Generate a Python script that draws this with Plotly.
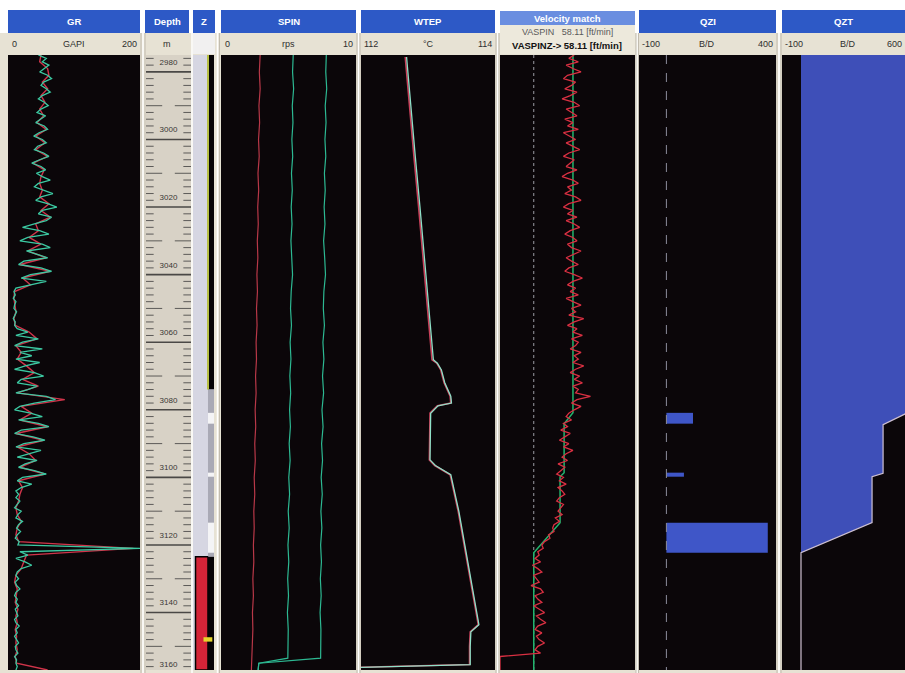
import numpy as np
import plotly.graph_objects as go

# ---------------- data ----------------
DEPTH_RANGE = [2975.0, 3157.0]

GR_DEPTH = np.arange(2975, 3158, 1.0)
GR_PASS1 = [46, 58, 52, 62, 55, 48, 60, 66, 54, 50,
            58, 64, 52, 46, 55, 61, 50, 44, 57, 49,
            42, 55, 60, 47, 39, 52, 58, 45, 40, 54,
            62, 48, 36, 50, 57, 43, 52, 64, 46, 40,
            55, 68, 50, 42, 60, 74, 52, 46, 66, 58,
            40, 22, 48, 62, 30, 18, 52, 64, 28, 44,
            60, 24, 16, 50, 66, 34, 20, 58, 36, 12,
            9, 11, 8, 12, 10, 9, 13, 10, 8, 11,
            10, 14, 30, 12, 46, 22, 10, 52, 18, 36,
            12, 48, 26, 10, 40, 54, 20, 14, 44, 30,
            12, 58, 72, 40, 18, 10, 34, 52, 16, 46,
            62, 20, 10, 38, 56, 24, 12, 50, 30, 14,
            44, 26, 16, 40, 58, 22, 14, 36, 20, 12,
            16, 12, 18, 14, 10, 20, 15, 12, 22, 16,
            13, 19, 14, 11, 17, 15, 200, 18, 30, 12,
            26, 36, 20, 14, 12, 16, 11, 13, 18, 12,
            10, 14, 12, 16, 11, 13, 15, 10, 12, 17,
            12, 14, 10, 13, 16, 11, 12, 15, 10, 13,
            12, 14, 12]
GR_PASS2_DEPTH = np.arange(2975, 3158, 2.0)
GR_PASS2 = [50, 48, 60, 62, 52, 60, 50, 56, 48, 54,
            44, 58, 42, 56, 42, 60, 38, 55, 50, 48,
            52, 48, 62, 50, 64, 42, 46, 32, 50, 30,
            58, 18, 64, 22, 34, 10, 9, 11, 12, 9,
            11, 32, 44, 12, 20, 14, 28, 40, 22, 46,
            14, 86, 20, 36, 18, 60, 12, 54, 14, 32,
            42, 18, 56, 16, 22, 18, 16, 12, 14, 20,
            14, 12, 16, 190, 28, 24, 20, 12, 10, 14,
            12, 11, 15, 12, 14, 11, 13, 12, 14, 11,
            13, 60]

DEPTH_MARKS = np.arange(2976, 3160, 2)
DEPTH_LABELS = [2980, 3000, 3020, 3040, 3060, 3080, 3100, 3120, 3140, 3160]

Z_ZONE_TOP = [2975.0, 3123.5, 2975.0, 3074.0, 3080.9, 3098.6, 3113.4, 3123.5, 2975.0, 3147.3]
Z_ZONE_BOTTOM = [3157.0, 3157.0, 3074.0, 3123.5, 3084.1, 3099.8, 3122.3, 3157.0, 3074.0, 3148.6]
Z_ZONE_KIND = ['casing', 'sump', 'blank', 'screen', 'flow', 'flow', 'flow', 'blank', 'edge', 'marker']

SPIN_DEPTH = [2975, 2980, 2985, 2990, 2995, 3000, 3005, 3010, 3015, 3020,
              3025, 3030, 3035, 3040, 3045, 3050, 3055, 3060, 3065, 3070,
              3075, 3080, 3085, 3090, 3095, 3100, 3105, 3110, 3115, 3120,
              3125, 3130, 3135, 3140, 3145, 3150, 3153.5, 3155, 3157]
SPIN_1 = [2.90, 2.84, 2.90, 2.81, 2.86, 2.78, 2.83, 2.74, 2.79, 2.72,
          2.76, 2.69, 2.73, 2.66, 2.70, 2.63, 2.67, 2.60, 2.63, 2.56,
          2.60, 2.53, 2.57, 2.50, 2.54, 2.46, 2.50, 2.43, 2.46, 2.40,
          2.43, 2.36, 2.40, 2.33, 2.36, 2.30, 2.28, 2.26, 2.25]
SPIN_2 = [5.35, 5.30, 5.38, 5.28, 5.33, 5.25, 5.31, 5.22, 5.28, 5.20,
          5.26, 5.18, 5.24, 5.30, 5.20, 5.15, 5.22, 5.12, 5.18, 5.10,
          5.16, 5.08, 5.14, 5.05, 5.12, 5.02, 5.08, 4.98, 5.05, 4.96,
          5.02, 4.94, 5.00, 4.92, 4.98, 4.95, 4.95, 2.80, 2.75]
SPIN_3 = [7.80, 7.76, 7.83, 7.72, 7.78, 7.70, 7.76, 7.66, 7.72, 7.64,
          7.70, 7.60, 7.68, 7.74, 7.62, 7.58, 7.66, 7.55, 7.62, 7.52,
          7.60, 7.48, 7.56, 7.45, 7.52, 7.42, 7.50, 7.40, 7.47, 7.38,
          7.44, 7.36, 7.42, 7.34, 7.40, 7.38, 7.38, 2.80, 2.75]

WTEP_DEPTH = [2975.6, 2990, 3005, 3020, 3035, 3050, 3065.2, 3066.2, 3068.2, 3072,
              3076, 3078, 3078.8, 3081, 3088, 3094.8, 3096.5, 3099.2, 3110, 3120,
              3130, 3143.6, 3145.7, 3150, 3155.4, 3156.2]
WTEP_PASS1 = [112.66, 112.72, 112.79, 112.86, 112.93, 112.99, 113.06, 113.13, 113.19, 113.24,
              113.33, 113.34, 113.14, 113.03, 113.02, 113.02, 113.10, 113.33, 113.45, 113.54,
              113.63, 113.75, 113.63, 113.62, 113.62, 112.0]
WTEP_PASS2 = [112.68, 112.74, 112.81, 112.88, 112.95, 113.01, 113.08, 113.14, 113.20, 113.25,
              113.34, 113.35, 113.15, 113.04, 113.03, 113.03, 113.11, 113.34, 113.46, 113.55,
              113.64, 113.76, 113.64, 113.63, 113.63, 112.0]

VEL_DEPTH = np.arange(2975, 3158, 1.0)
VASPIN = [60, 52, 66, 48, 58, 70, 50, 44, 62, 56,
          46, 64, 54, 42, 60, 68, 48, 56, 64, 46,
          58, 50, 66, 44, 54, 62, 48, 58, 68, 52,
          44, 60, 54, 48, 64, 50, 42, 58, 66, 50,
          56, 46, 62, 70, 52, 44, 58, 50, 64, 48,
          60, 68, 54, 46, 58, 64, 50, 56, 70, 60,
          48, 56, 66, 52, 46, 60, 72, 58, 50, 62,
          54, 66, 48, 58, 70, 56, 62, 52, 74, 60,
          50, 64, 58, 72, 56, 66, 62, 54, 70, 60,
          66, 58, 74, 62, 54, 68, 60, 72, 58, 66,
          62, 84, 64, 56, 70, 60, 52, 48, 56, 44,
          50, 40, 54, 46, 38, 52, 44, 58, 48, 42,
          50, 36, 46, 40, 34, 44, 38, 48, 36, 42,
          46, 38, 34, 44, 40, 36, 42, 32, 38, 30,
          28, 30, 22, 24, 16, 12, 14, 6, 8, 2,
          10, -2, 6, 12, 0, 4, 8, -4, 10, 14,
          2, 6, 12, 0, 8, 16, 4, 10, 18, 6,
          2, 12, 4, 8, 16, 6, 2, 10, -50, -50,
          -50, -50, -50]
VASPINZ_DEPTH = [2975, 3080.9, 3084.1, 3098.6, 3099.8, 3113.4, 3122.3, 3157]
VASPINZ = [58.11, 58.11, 45, 45, 39, 39, 0, 0]

QZI_TOP = [3080.9, 3098.6, 3113.4]
QZI_BOTTOM = [3084.1, 3099.8, 3122.3]
QZI_RATE = [97, 64, 370]

QZT_DEPTH = [2975, 3080.9, 3084.4, 3098.8, 3099.8, 3113.4, 3122.3, 3157]
QZT = [560, 560, 432, 432, 374, 374, 0, 0]

# ---------------- layout helpers ----------------
W, H = 905, 673
Y_TOP, Y_BOT = 55, 670
FONT = "Liberation Sans Narrow, Liberation Sans, Arial"
BLUE = "#2D59C6"
BEIGE = "#E7E2D4"
BLACK = "#0B0609"

def px(x):
    return x / W

def py(y):
    return 1 - y / H

shapes = []
annots = []

def rect(x0, y0, x1, y1, color):
    shapes.append(dict(type="rect", xref="paper", yref="paper",
                       x0=px(x0), x1=px(x1), y0=py(y1), y1=py(y0),
                       fillcolor=color, line=dict(width=0), layer="below"))

def vline(x, y0, y1, color, width=1.0):
    shapes.append(dict(type="line", xref="paper", yref="paper",
                       x0=px(x), x1=px(x), y0=py(y1), y1=py(y0),
                       line=dict(color=color, width=width), layer="below"))

def text(x, y, s, anchor="center", color="#2E2E2E", size=9, bold=False):
    annots.append(dict(xref="paper", yref="paper", x=px(x), y=py(y), text=("<b>%s</b>" % s) if bold else s,
                       showarrow=False, xanchor=anchor, yanchor="middle",
                       font=dict(family=FONT, size=size, color=color)))

# tracks: (name, x0, x1, range)
TRACKS = [
    ("GR", 8, 140, [0, 200]),
    ("Depth", 146, 191, [0, 1]),
    ("Z", 193, 214, [0, 1]),
    ("SPIN", 221, 356, [0, 10]),
    ("WTEP", 361, 495, [112, 114]),
    ("VEL", 500, 635, [-50, 150]),
    ("QZI", 639, 776, [-100, 400]),
    ("QZT", 782, 905, [-100, -100 + 123 / 133 * 700]),
]

# background
rect(0, 33, W, H, BEIGE)
for name, x0, x1, _ in TRACKS:
    if name == "Depth":
        rect(x0, Y_TOP, x1, Y_BOT, "#D8D2C6")
    elif name == "Z":
        rect(x0, Y_TOP, x1, Y_BOT, "#DCDCE6")
    else:
        rect(x0, Y_TOP, x1, Y_BOT, BLACK)
for sx in [143, 192, 217.5, 358.5, 497.5, 637, 779]:
    vline(sx, 33, H, "#FFFFFF", 1.5)
for sx in [141, 145, 219.5, 357, 360, 496, 499, 636, 638.5, 777, 781]:
    vline(sx, 33, H, "#B9B3A6", 0.8)

# headers
HEAD = {"GR": (8, 140), "Depth": (145, 189), "Z": (193, 215), "SPIN": (221, 356),
        "WTEP": (361, 495), "QZI": (639, 776), "QZT": (782, 905)}
for t, (a, b) in HEAD.items():
    rect(a, 10, b, 33, BLUE)
    text((a + b) / 2, 21, t, color="white", size=9.5, bold=True)
rect(500, 11, 635, 25, "#6A8EE0")
rect(500, 25, 635, 54, "#EDE9DC")
text(567, 18, "Velocity match", color="white", size=9.5, bold=True)
text(567, 32, "VASPIN   58.11 [ft/min]", color="#5A5A5A", size=9)
text(567, 46, "VASPINZ-&gt; 58.11 [ft/min]", color="#111111", size=9.5, bold=True)
rect(193, 33, 215, 54, "#F1F0F0")

# scale rows
text(10, 44, "0", "left"); text(74, 44, "GAPI"); text(139, 44, "200", "right")
text(167, 44, "m")
text(223, 44, "0", "left"); text(288, 44, "rps"); text(355, 44, "10", "right")
text(362, 44, "112", "left"); text(428, 44, "°C"); text(494, 44, "114", "right")
text(640, 44, "-100", "left"); text(707, 44, "B/D"); text(775, 44, "400", "right")
text(783, 44, "-100", "left"); text(848, 44, "B/D"); text(904, 44, "600", "right")

# ---------------- traces ----------------
fig = go.Figure()
XA = {name: ("x" if i == 0 else "x%d" % (i + 1)) for i, (name, *_r) in enumerate(TRACKS)}

def line(name, xv, yv, color, width=1.3, dash=None):
    fig.add_trace(go.Scatter(x=xv, y=yv, mode="lines", xaxis=XA[name], yaxis="y",
                             line=dict(color=color, width=width, dash=dash), hoverinfo="skip"))

# GR
line("GR", GR_PASS2, GR_PASS2_DEPTH, "#D0344A", 1.4)
line("GR", GR_PASS1, GR_DEPTH, "#3CC9A2", 1.3)

# depth ruler
minor_x, minor_y, major_x, major_y = [], [], [], []
for d in DEPTH_MARKS:
    if d % 20 == 0:
        major_x += [0, 1, None]; major_y += [d, d, None]
    elif d % 10 == 0:
        minor_x += [0, 0.36, None, 0.64, 1, None]; minor_y += [d, d, None, d, d, None]
    else:
        minor_x += [0, 0.17, None, 0.83, 1, None]; minor_y += [d, d, None, d, d, None]
line("Depth", minor_x, minor_y, "#5C5A58", 1.0)
line("Depth", major_x, major_y, "#4A4846", 1.6)
fig.add_trace(go.Scatter(x=[0.5] * len(DEPTH_LABELS),
                         y=[min(d - 2.7, DEPTH_RANGE[1] - 1.4) for d in DEPTH_LABELS],
                         text=[str(d) for d in DEPTH_LABELS], mode="text", xaxis=XA["Depth"], yaxis="y",
                         textfont=dict(family=FONT, size=8, color="#3A3836"), hoverinfo="skip",
                         cliponaxis=False))

# Z track
Z_STYLE = {"casing": (0.0, 0.714, "#D6D6E2", 0),
           "sump": (0.12, 0.714, "#D42438", 1.5),
           "blank": (0.714, 1.0, "#060306", 0),
           "screen": (0.714, 1.0, "#A9A9B5", 0),
           "flow": (0.714, 1.0, "#F4F4F6", 0),
           "edge": (0.70, 0.75, "#B8C046", 0),
           "marker": (0.5, 0.92, "#E6D62A", 0)}
for t, b, k in zip(Z_ZONE_TOP, Z_ZONE_BOTTOM, Z_ZONE_KIND):
    l, r, c, lw = Z_STYLE[k]
    fig.add_trace(go.Bar(y=[(t + b) / 2], x=[r - l], base=[l], width=[b - t], orientation="h",
                         xaxis=XA["Z"], yaxis="y", marker=dict(color=c, line=dict(color="#000000", width=lw)),
                         opacity=1, hoverinfo="skip"))

# SPIN
line("SPIN", SPIN_1, SPIN_DEPTH, "#B83848", 1.2)
line("SPIN", SPIN_2, SPIN_DEPTH, "#2DB892", 1.2)
line("SPIN", SPIN_3, SPIN_DEPTH, "#2DB892", 1.2)

# WTEP
line("WTEP", WTEP_PASS1, WTEP_DEPTH, "#C8405A", 1.6)
line("WTEP", WTEP_PASS2, WTEP_DEPTH, "#8FE0C8", 1.3)

# velocity match
line("VEL", [0, 0], DEPTH_RANGE, "#9C9CA4", 1.0, "dot")
line("VEL", VASPINZ, VASPINZ_DEPTH, "#22B56E", 1.5)
line("VEL", VASPIN, VEL_DEPTH, "#DA3042", 1.3)

# QZI
line("QZI", [0, 0], DEPTH_RANGE, "#8C8C9C", 1.0, "dash")
fig.add_trace(go.Bar(y=[(t + b) / 2 for t, b in zip(QZI_TOP, QZI_BOTTOM)], x=QZI_RATE,
                     width=[b - t for t, b in zip(QZI_TOP, QZI_BOTTOM)], orientation="h",
                     xaxis=XA["QZI"], yaxis="y", marker=dict(color="#3F56C8", line=dict(width=0)),
                     opacity=1, hoverinfo="skip"))

# QZT
fig.add_trace(go.Scatter(x=QZT, y=QZT_DEPTH, mode="lines", fill="tozerox", fillcolor="#3E4FB8",
                         line=dict(color="#CDBFD0", width=1.2), xaxis=XA["QZT"], yaxis="y", hoverinfo="skip"))

# axes
lay = dict(width=W, height=H, margin=dict(l=0, r=0, t=0, b=0), paper_bgcolor="white",
           plot_bgcolor="rgba(0,0,0,0)", showlegend=False, barmode="overlay",
           shapes=shapes, annotations=annots)
for i, (name, x0, x1, rng) in enumerate(TRACKS):
    key = "xaxis" if i == 0 else "xaxis%d" % (i + 1)
    lay[key] = dict(domain=[px(x0), px(x1)], range=rng, visible=False, fixedrange=True, anchor="y")
lay["yaxis"] = dict(domain=[py(Y_BOT), py(Y_TOP)], range=[DEPTH_RANGE[1], DEPTH_RANGE[0]],
                    visible=False, fixedrange=True, anchor="x")
fig.update_layout(**lay)
fig.write_html("out.html", config={"displayModeBar": False},
               post_script="document.body.style.margin='0px';document.body.style.overflow='hidden';")
